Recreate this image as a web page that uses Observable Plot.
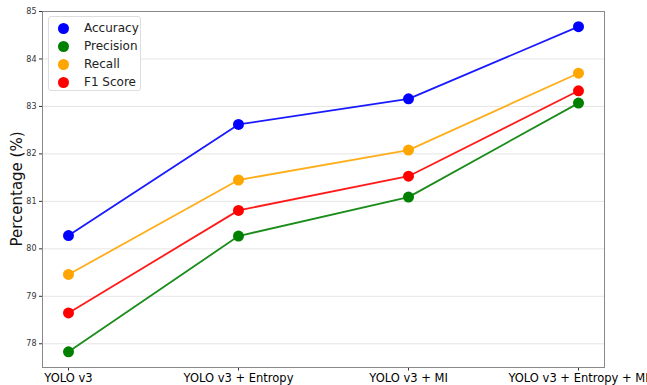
<!DOCTYPE html>
<html><head><meta charset="utf-8">
<script src="https://cdn.jsdelivr.net/npm/d3@7"></script>
<script src="https://cdn.jsdelivr.net/npm/@observablehq/plot@0.6"></script>
<style>
body{margin:0;background:#fff;font-family:"DejaVu Sans",sans-serif;}
#wrap{position:relative;width:647px;height:385px;overflow:hidden;}
#legend{position:absolute;left:48px;top:16px;width:93px;height:75px;background:rgba(255,255,255,0.9);border:1px solid #ddd;border-radius:3px;box-sizing:border-box;font-size:12px;color:#222;}
#legend .row{position:absolute;left:0;height:18px;display:flex;align-items:center;}
#legend .dot{width:11px;height:11px;border-radius:50%;margin-left:9px;margin-right:15px;}
</style></head>
<body><div id="wrap"><div id="chart"></div><div id="legend"></div></div>
<script>
const models = ["YOLO v3", "YOLO v3 + Entropy", "YOLO v3 + MI", "YOLO v3 + Entropy + MI"];
const seriesNames = ["Accuracy", "Precision", "Recall", "F1 Score"];
const seriesColors = ["#0000ff", "#008000", "#ffa500", "#ff0000"];
const accuracy = [80.28, 82.62, 83.16, 84.68];
const precision = [77.83, 80.27, 81.09, 83.07];
const recall = [79.46, 81.45, 82.08, 83.70];
const f1 = [78.65, 80.81, 81.53, 83.33];
const yTicks = [78, 79, 80, 81, 82, 83, 84, 85];

const values = [accuracy, precision, recall, f1];
const data = [];
seriesNames.forEach((s, i) => models.forEach((m, j) => data.push({series: s, model: m, value: values[i][j]})));

const chart = Plot.plot({
  width: 647, height: 385,
  marginLeft: 42, marginRight: 43, marginTop: 11, marginBottom: 18,
  style: {fontFamily: "DejaVu Sans, sans-serif", overflow: "visible"},
  x: {type: "point", domain: models, inset: 25, padding: 0, label: null},
  y: {domain: [77.5, 85], ticks: yTicks, label: null},
  color: {domain: seriesNames, range: seriesColors},
  marks: [
    Plot.gridY(yTicks, {stroke: "#e6e6e6", strokeOpacity: 1, strokeWidth: 1}),
    Plot.line(data, {x: "model", y: "value", z: "series", stroke: "series", strokeWidth: 1.8, strokeOpacity: 0.9}),
    Plot.dot(data, {x: "model", y: "value", fill: "series", r: 5.5}),
    Plot.axisY({ticks: yTicks, tickSize: 3, tickPadding: 3, fontSize: 8, fill: "#333", stroke: "#333"}),
    Plot.axisX({tickSize: 3.5, tickPadding: 3, fontSize: 11.5, fill: "#000", stroke: "#333"}),
    Plot.frame({stroke: "#888", strokeWidth: 1})
  ]
});
document.getElementById("chart").appendChild(chart);

// y label
const svg = d3.select(chart);
svg.append("text").attr("transform", "translate(17,189) rotate(-90)")
  .attr("text-anchor", "middle").attr("dominant-baseline", "middle")
  .attr("font-size", 15).attr("fill", "#111").text("Percentage (%)");

const leg = document.getElementById("legend");
seriesNames.forEach((s, i) => {
  const row = document.createElement("div");
  row.className = "row";
  row.style.top = (2 + i * 18) + "px";
  row.innerHTML = `<span class="dot" style="background:${seriesColors[i]}"></span><span>${s}</span>`;
  leg.appendChild(row);
});
</script></body></html>
